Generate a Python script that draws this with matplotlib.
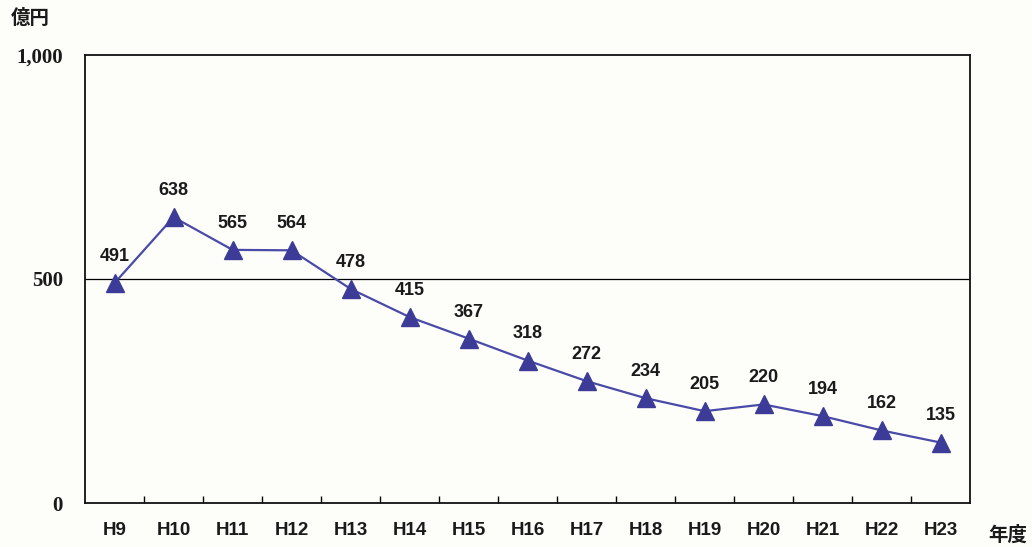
import numpy as np
import matplotlib.pyplot as plt

years = ['H9', 'H10', 'H11', 'H12', 'H13', 'H14', 'H15', 'H16',
         'H17', 'H18', 'H19', 'H20', 'H21', 'H22', 'H23']
values = [491, 638, 565, 564, 478, 415, 367, 318, 272, 234, 205, 220, 194, 162, 135]
yticks = [0, 500, 1000]
ytick_labels = ['0', '500', '1,000']

LINE = '#4a4aa8'
MARK = '#3c3c98'
BG = '#fdfdf9'
INK = '#1a1a1a'
CJK = ['Noto Sans CJK JP', 'DejaVu Sans']


def plot():
    fig = plt.figure(figsize=(10.32, 5.47), dpi=100, facecolor=BG)
    ax = fig.add_axes([0.0824, 0.0804, 0.8576, 0.8191], facecolor=BG)

    x = np.arange(len(years))
    ax.plot(x, values, color=LINE, lw=1.6, marker='^', ms=13,
            mfc=MARK, mec=MARK, zorder=3)
    for xi, v in zip(x, values):
        ax.annotate(str(v), (xi, v), xytext=(0, 13), textcoords='offset points',
                    ha='center', va='bottom', fontsize=13, fontweight='bold',
                    family='Liberation Sans', color=INK)

    ax.set_xlim(-0.5, len(years) - 0.5)
    ax.set_ylim(0, 1000)
    ax.axhline(500, color='black', lw=0.9, zorder=1)

    ax.set_yticks(yticks)
    ax.set_yticklabels(ytick_labels, family='Liberation Serif', fontweight='bold',
                       fontsize=15, color=INK)
    ax.tick_params(axis='y', length=0, pad=16)

    ax.set_xticks(x)
    ax.set_xticklabels(years, family='Liberation Sans', fontsize=13.5,
                       fontweight='bold', color=INK)
    ax.tick_params(axis='x', which='major', length=0, pad=14)
    ax.set_xticks(np.arange(0.5, len(years) - 1, 1.0), minor=True)
    ax.tick_params(axis='x', which='minor', direction='in', length=5, width=1)

    for s in ax.spines.values():
        s.set_linewidth(1.3)
        s.set_color('#111111')

    fig.text(0.01, 0.967, '億円', family=CJK, fontweight='bold', fontsize=14,
             color=INK, va='center')
    fig.text(0.958, 0.022, '年度', family=CJK, fontweight='bold', fontsize=14,
             color=INK, va='center')

    fig.savefig('out.png', dpi=100, facecolor=BG)


if __name__ == '__main__':
    plot()
